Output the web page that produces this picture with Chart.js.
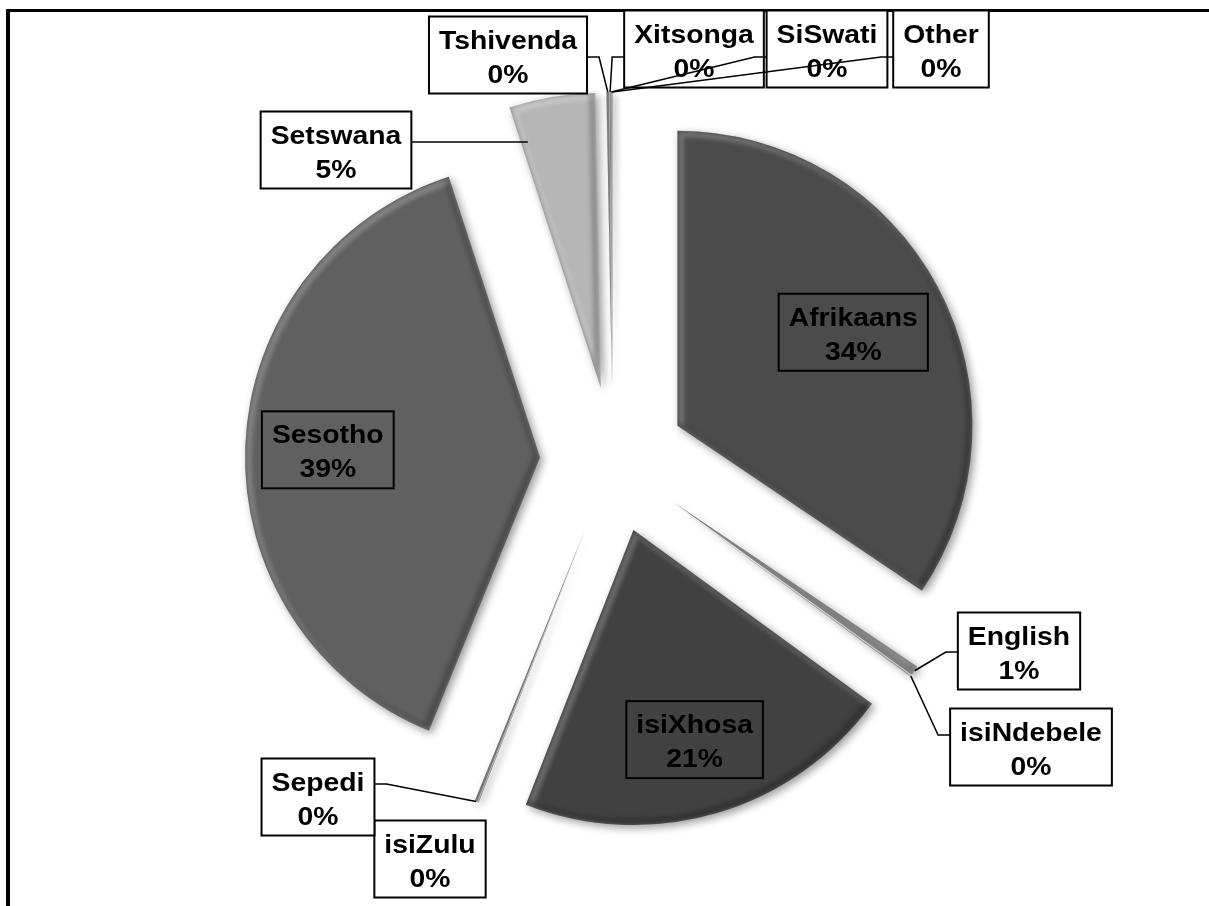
<!DOCTYPE html>
<html>
<head>
<meta charset="utf-8">
<script src="https://cdn.jsdelivr.net/npm/chart.js@4.4.0/dist/chart.umd.min.js"></script>
<style>
  body { margin: 0; background: #fff; }
  #wrap { position: relative; width: 1209px; height: 906px; }
  #frame { position: absolute; left: 6px; top: 9px; right: 0; bottom: 0;
           border-top: 3px solid #000; border-left: 4px solid #000; }
  canvas { position: absolute; left: 0; top: 0; }
</style>
</head>
<body>
<div id="wrap">
  <div id="frame"></div>
  <canvas id="myChart" width="1209" height="906"></canvas>
</div>
<script>
// home language shares (%)
const languages = ['Afrikaans', 'English', 'isiNdebele', 'isiXhosa', 'isiZulu', 'Sepedi',
                   'Sesotho', 'Setswana', 'Tshivenda', 'Xitsonga', 'SiSwati', 'Other'];
const shares = [34.4, 0.52, 0.05, 20.9, 0.05, 0.15, 38.8, 4.7, 0.15, 0.05, 0.05, 0.05];

const sliceColors = ['#4b4b4b', '#8c8c8c', '#a0a0a0', '#414141', '#9a9a9a', '#7a7a7a',
                     '#606060', '#b6b6b6', '#8a8a8a', '#707070', '#9a9a9a', '#bdbdbd'];

// layout
const EXPLODE = 73;
const RADIUS = 295;
const TEXT_STRETCH = 1.09;
const FONT = 'bold 26px "Liberation Sans", Arial, sans-serif';

// labels sitting on the slice: distance from the slice tip, as part of the radius
const insideAt = { Afrikaans: 0.675, isiXhosa: 0.74, Sesotho: 0.72 };
// callout boxes: centre relative to pie centre, side the leader leaves from
const callouts = {
  English:    { dx: 406,  dy: 191,  side: 'left',  lineDy: 1 },
  isiNdebele: { dx: 418,  dy: 287,  side: 'left',  lineDy: -12 },
  isiZulu:    { dx: -183, dy: 399,  side: 'none',  lineDy: 0 },
  Sepedi:     { dx: -295, dy: 337,  side: 'right', lineDy: -13 },
  Setswana:   { dx: -277, dy: -310, side: 'right', lineDy: -8, toEdge: true },
  Tshivenda:  { dx: -105, dy: -405, side: 'right', lineDy: 2 },
  Xitsonga:   { dx: 81,   dy: -411, side: 'left',  lineDy: 8 },
  SiSwati:    { dx: 214,  dy: -411, side: 'left',  lineDy: 8 },
  Other:      { dx: 328,  dy: -411, side: 'left',  lineDy: 8 }
};

const total = shares.reduce((a, b) => a + b, 0);
const pctText = shares.map(v => Math.round(v / total * 100) + '%');

// push every slice out from the centre by the same distance
const ArcElement = Chart.elements.ArcElement;
const baseArcDraw = ArcElement.prototype.draw;
ArcElement.prototype.draw = function(ctx) {
  const mid = (this.startAngle + this.endAngle) / 2;
  ctx.save();
  ctx.translate(Math.cos(mid) * EXPLODE, Math.sin(mid) * EXPLODE);
  baseArcDraw.call(this, ctx);
  ctx.restore();
};

function sliceApex(el) {
  const mid = (el.startAngle + el.endAngle) / 2;
  return [el.x + Math.cos(mid) * EXPLODE, el.y + Math.sin(mid) * EXPLODE];
}

function slicePath(ctx, el) {
  const [cx, cy] = sliceApex(el);
  ctx.beginPath();
  ctx.moveTo(cx, cy);
  ctx.arc(cx, cy, el.outerRadius, el.startAngle, el.endAngle);
  ctx.closePath();
}

function boxWidth(ctx, lines) {
  ctx.font = FONT;
  return Math.max(...lines.map(t => ctx.measureText(t).width)) * TEXT_STRETCH + 20;
}

function drawBox(ctx, x, y, lines, fill) {
  const w = boxWidth(ctx, lines);
  const h = 77;
  if (fill) {
    ctx.fillStyle = fill;
    ctx.fillRect(x - w / 2, y - h / 2, w, h);
  }
  ctx.lineWidth = 2;
  ctx.strokeStyle = '#000';
  ctx.strokeRect(x - w / 2, y - h / 2, w, h);
  ctx.fillStyle = '#000';
  ctx.textAlign = 'center';
  ctx.textBaseline = 'alphabetic';
  lines.forEach((t, k) => {
    ctx.save();
    ctx.translate(x, y - 6.5 + k * 34);
    ctx.scale(TEXT_STRETCH, 1);
    ctx.fillText(t, 0, 0);
    ctx.restore();
  });
}

function drawLeaders(ctx, arcs) {
  ctx.save();
  ctx.strokeStyle = '#000';
  ctx.lineWidth = 1.5;
  Object.keys(callouts).forEach(name => {
    const c = callouts[name];
    if (c.side === 'none') return;
    const i = languages.indexOf(name);
    const el = arcs[i];
    const mid = (el.startAngle + el.endAngle) / 2;
    const w = boxWidth(ctx, [name, pctText[i]]);
    const bx = el.x + c.dx;
    const sx = c.side === 'left' ? bx - w / 2 : bx + w / 2;
    const stub = c.side === 'left' ? -12 : 12;
    const ly = el.y + c.dy + c.lineDy;
    let ax, ay;
    if (c.toEdge) {
      // run level until just inside the near straight edge of the slice
      const [px, py] = sliceApex(el);
      const t = (ly - py) / Math.sin(el.startAngle);
      ax = px + t * Math.cos(el.startAngle) + 7;
      ay = ly;
    } else {
      const d = EXPLODE + el.outerRadius;
      ax = el.x + Math.cos(mid) * d;
      ay = el.y + Math.sin(mid) * d;
    }
    ctx.beginPath();
    ctx.moveTo(sx, ly);
    ctx.lineTo(sx + stub, ly);
    ctx.lineTo(ax, ay);
    ctx.stroke();
  });
  ctx.restore();
}

const pieDecor = {
  id: 'pieDecor',
  beforeDatasetsDraw(chart) {
    // soft drop shadow for the slices
    const ctx = chart.ctx;
    ctx.save();
    ctx.shadowColor = 'rgba(0,0,0,0.4)';
    ctx.shadowBlur = 8;
    ctx.shadowOffsetX = 3;
    ctx.shadowOffsetY = 3;
  },
  afterDatasetsDraw(chart) {
    const ctx = chart.ctx;
    ctx.restore();
    const arcs = chart.getDatasetMeta(0).data;
    // bevel: light on the upper-left edges, dark on the lower-right ones
    arcs.forEach(el => {
      ctx.save();
      slicePath(ctx, el);
      ctx.clip();
      ctx.filter = 'blur(2px)';
      ctx.lineWidth = 7;
      ctx.translate(3, 3);
      slicePath(ctx, el);
      ctx.strokeStyle = 'rgba(255,255,255,0.22)';
      ctx.stroke();
      ctx.translate(-6, -6);
      slicePath(ctx, el);
      ctx.strokeStyle = 'rgba(0,0,0,0.22)';
      ctx.stroke();
      ctx.restore();
    });
    // data labels
    ctx.save();
    languages.forEach((name, i) => {
      const el = arcs[i];
      const lines = [name, pctText[i]];
      if (insideAt[name] !== undefined) {
        const mid = (el.startAngle + el.endAngle) / 2;
        const d = EXPLODE + el.outerRadius * insideAt[name];
        drawBox(ctx, el.x + Math.cos(mid) * d, el.y + Math.sin(mid) * d, lines, null);
      } else if (callouts[name]) {
        drawBox(ctx, el.x + callouts[name].dx, el.y + callouts[name].dy, lines, '#fff');
      }
    });
    ctx.restore();
    // leader lines are drawn last, over the boxes
    drawLeaders(ctx, arcs);
  }
};

const ctx = document.getElementById('myChart');
new Chart(ctx, {
  type: 'pie',
  data: {
    labels: languages,
    datasets: [{
      data: shares,
      backgroundColor: sliceColors,
      borderWidth: 0,
      radius: RADIUS
    }]
  },
  options: {
    responsive: false,
    animation: false,
    layout: { padding: { left: 17, top: 14, right: 0, bottom: 0 } },
    plugins: {
      legend: { display: false },
      tooltip: { enabled: false }
    }
  },
  plugins: [pieDecor]
});
</script>
</body>
</html>
